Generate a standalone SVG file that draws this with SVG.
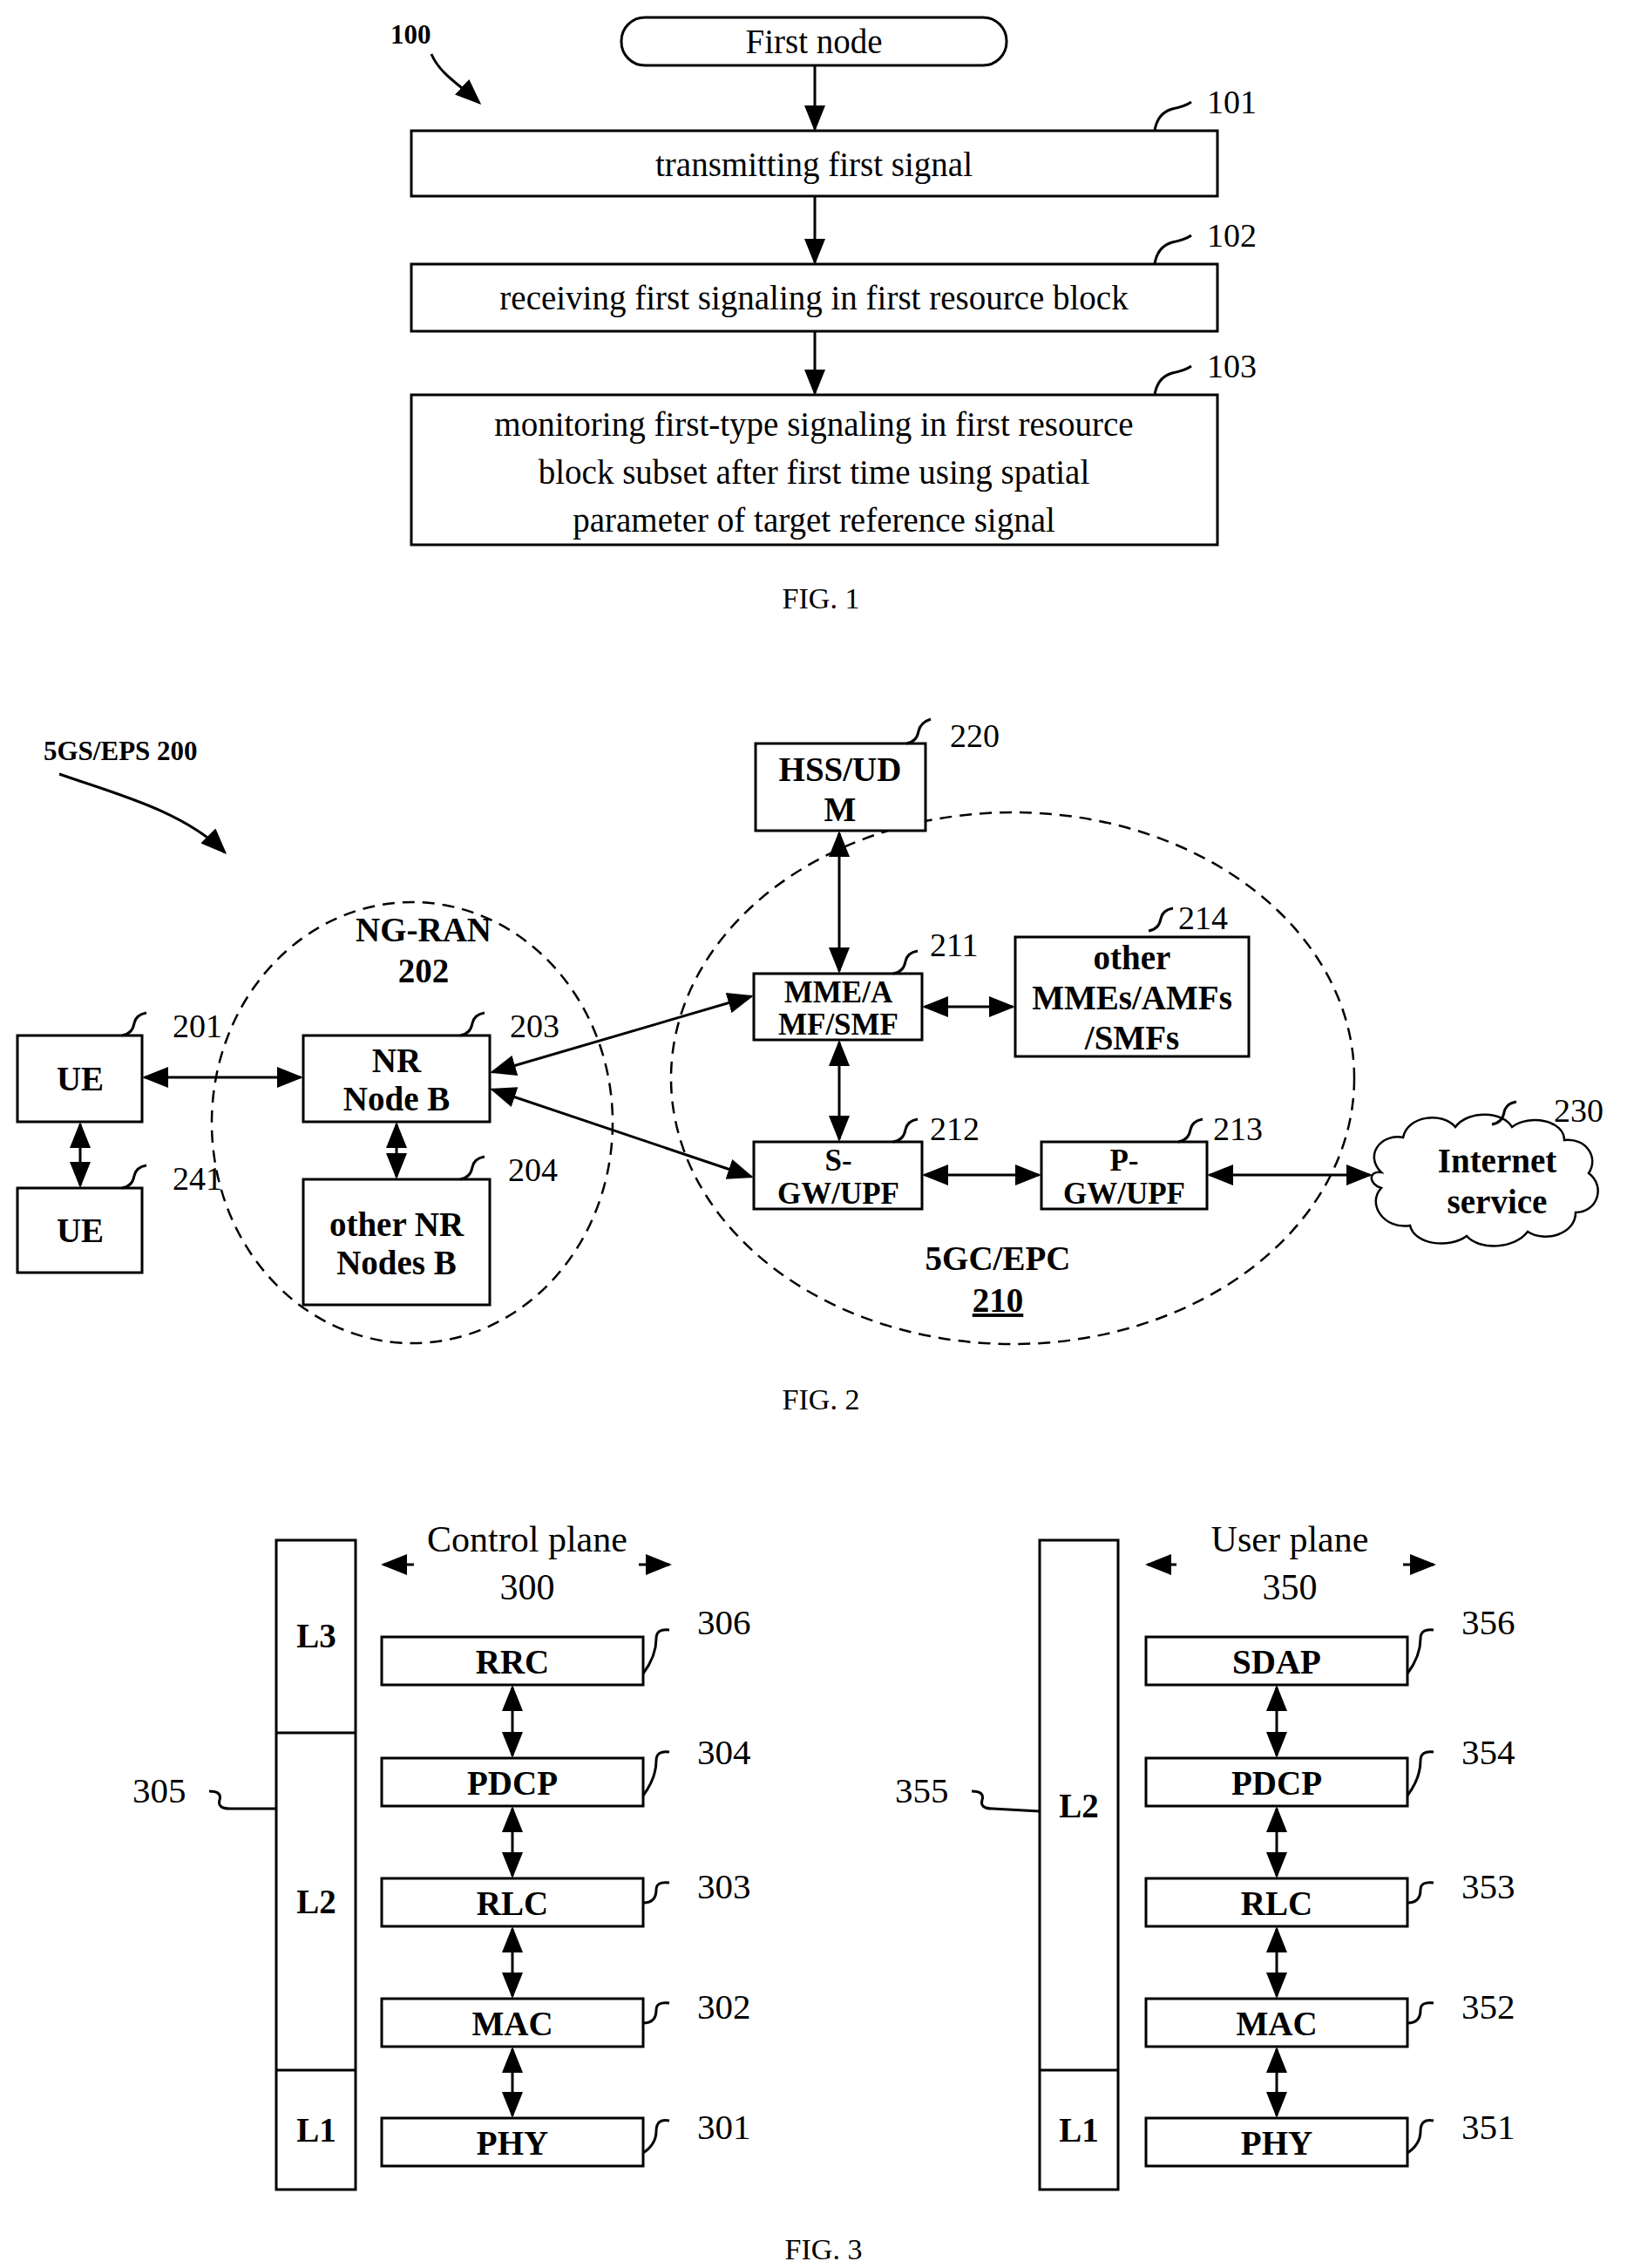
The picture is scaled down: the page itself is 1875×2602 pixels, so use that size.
<svg xmlns="http://www.w3.org/2000/svg" width="1875" height="2602" viewBox="0 0 1875 2602">
<style>
text{font-family:"Liberation Serif",serif;fill:#000}
.t{font-size:39px;text-anchor:middle}
.b{font-size:39px;font-weight:bold;text-anchor:middle}
.b2{font-size:35px;font-weight:bold;text-anchor:middle}
.n{font-size:38px}
.n3{font-size:41px}
.nb{font-size:31px;font-weight:bold}
.box{fill:#fff;stroke:#000;stroke-width:3}
.ln{fill:none;stroke:#000;stroke-width:3}
.ld{fill:none;stroke:#000;stroke-width:3}
.ar{fill:none;stroke:#000;stroke-width:3;marker-end:url(#a)}
.ar2{fill:none;stroke:#000;stroke-width:3;marker-end:url(#a);marker-start:url(#a)}
.el{fill:none;stroke:#000;stroke-width:2.5;stroke-dasharray:14 9}
</style>
<defs>
<marker id="a" markerWidth="10" markerHeight="8" refX="9" refY="4" orient="auto-start-reverse" markerUnits="strokeWidth"><path d="M0,0 L10,4 L0,8 Z"/></marker>
</defs>
<rect width="1875" height="2602" fill="#fff"/>

<!-- FIG 1 -->
<g id="fig1-label"><text class="nb" x="448" y="50">100</text><path class="ar" d="M495,62 C505,85 525,95 550,118"/></g>
<g id="first-node"><rect class="box" x="713" y="20" width="442" height="55" rx="27"/><text class="t" x="934" y="61">First node</text></g>
<g id="n101"><rect class="box" x="472" y="150" width="925" height="75"/><text class="t" x="934" y="202">transmitting first signal</text><path class="ld" d="M1325,150 q3,-20 20,-25 q15,-3 22,-8"/><text class="n" x="1385" y="130">101</text></g>
<g id="n102"><rect class="box" x="472" y="303" width="925" height="77"/><text class="t" x="934" y="355">receiving first signaling in first resource block</text><path class="ld" d="M1325,303 q3,-20 20,-25 q15,-3 22,-8"/><text class="n" x="1385" y="283">102</text></g>
<g id="n103"><rect class="box" x="472" y="453" width="925" height="172"/><text class="t" x="934" y="500">monitoring first-type signaling in first resource</text><text class="t" x="934" y="555">block subset after first time using spatial</text><text class="t" x="934" y="610">parameter of target reference signal</text><path class="ld" d="M1325,453 q3,-20 20,-25 q15,-3 22,-8"/><text class="n" x="1385" y="433">103</text></g>
<g id="fig1-conn"><path class="ar" d="M935,75 V148"/><path class="ar" d="M935,225 V301"/><path class="ar" d="M935,380 V451"/></g>
<text class="t" x="942" y="698" style="font-size:34px">FIG. 1</text>

<!-- FIG 2 -->
<g id="fig2-title"><text class="nb" x="50" y="872">5GS/EPS 200</text><path class="ar" d="M68,888 C130,910 210,930 258,978"/></g>
<ellipse class="el" cx="473" cy="1288" rx="230" ry="253"/>
<ellipse class="el" cx="1162" cy="1237" rx="392" ry="305"/>
<text class="b" x="486" y="1080">NG-RAN</text><text class="b" x="486" y="1127">202</text>
<text class="b" x="1145" y="1457">5GC/EPC</text><text class="b" x="1145" y="1505" text-decoration="underline">210</text>
<g id="hss"><rect class="box" x="867" y="853" width="195" height="100"/><text class="b" x="964" y="896">HSS/UD</text><text class="b" x="964" y="942">M</text><path class="ld" d="M1040,853 q12,-2 14,-14 q2,-10 14,-14"/><text class="n" x="1090" y="857">220</text></g>
<g id="ue1"><rect class="box" x="20" y="1188" width="143" height="99"/><text class="b" x="92" y="1251">UE</text><path class="ld" d="M140,1188 q12,-2 14,-14 q2,-10 14,-12"/><text class="n" x="198" y="1190">201</text></g>
<g id="ue2"><rect class="box" x="20" y="1363" width="143" height="97"/><text class="b" x="92" y="1425">UE</text><path class="ld" d="M140,1363 q12,-2 14,-14 q2,-10 14,-12"/><text class="n" x="198" y="1365">241</text></g>
<g id="nrnb"><rect class="box" x="348" y="1188" width="214" height="99"/><text class="b" x="455" y="1230">NR</text><text class="b" x="455" y="1274">Node B</text><path class="ld" d="M528,1188 q12,-2 14,-14 q2,-10 14,-12"/><text class="n" x="585" y="1190">203</text></g>
<g id="othernr"><rect class="box" x="348" y="1353" width="214" height="144"/><text class="b" x="455" y="1418">other NR</text><text class="b" x="455" y="1462">Nodes B</text><path class="ld" d="M528,1353 q12,-2 14,-14 q2,-10 14,-12"/><text class="n" x="583" y="1355">204</text></g>
<g id="mme"><rect class="box" x="865" y="1117" width="193" height="76"/><text class="b2" x="962" y="1150">MME/A</text><text class="b2" x="962" y="1187">MF/SMF</text><path class="ld" d="M1025,1117 q12,-2 14,-14 q2,-10 14,-12"/><text class="n" x="1067" y="1097">211</text></g>
<g id="othermme"><rect class="box" x="1165" y="1075" width="268" height="137"/><text class="b" x="1299" y="1112">other</text><text class="b" x="1299" y="1158">MMEs/AMFs</text><text class="b" x="1299" y="1204">/SMFs</text><path class="ld" d="M1318,1068 q12,-2 14,-14 q2,-10 14,-12"/><text class="n" x="1352" y="1066">214</text></g>
<g id="sgw"><rect class="box" x="865" y="1310" width="193" height="77"/><text class="b2" x="962" y="1343">S-</text><text class="b2" x="962" y="1381">GW/UPF</text><path class="ld" d="M1025,1310 q12,-2 14,-14 q2,-10 14,-12"/><text class="n" x="1067" y="1308">212</text></g>
<g id="pgw"><rect class="box" x="1195" y="1310" width="190" height="77"/><text class="b2" x="1290" y="1343">P-</text><text class="b2" x="1290" y="1381">GW/UPF</text><path class="ld" d="M1352,1310 q12,-2 14,-14 q2,-10 14,-12"/><text class="n" x="1392" y="1308">213</text></g>
<g id="internet"><path fill="#fff" stroke="#000" stroke-width="2.5" d="M1585,1345 c-20,-20 0,-45 25,-40 c5,-25 45,-30 60,-12 c15,-20 55,-18 65,0 c20,-15 60,-8 60,15 c25,-3 40,20 28,38 c20,15 10,45 -15,45 c0,25 -35,35 -55,22 c-15,20 -55,22 -70,5 c-20,15 -60,10 -65,-12 c-30,5 -50,-25 -33,-43 c-15,-5 -15,-20 0,-18 z"/><text class="b" x="1718" y="1345">Internet</text><text class="b" x="1718" y="1392">service</text><path class="ld" d="M1712,1290 q12,-2 14,-14 q2,-10 14,-12"/><text class="n" x="1783" y="1287">230</text></g>
<g id="fig2-conn">
<path class="ar2" d="M166,1236 H345"/>
<path class="ar2" d="M92,1290 V1360"/>
<path class="ar2" d="M455,1290 V1350"/>
<path class="ar2" d="M565,1230 L862,1143"/>
<path class="ar2" d="M565,1250 L862,1350"/>
<path class="ar2" d="M963,956 V1114"/>
<path class="ar2" d="M963,1196 V1307"/>
<path class="ar2" d="M1061,1155 H1162"/>
<path class="ar2" d="M1061,1348 H1192"/>
<path class="ar2" d="M1388,1348 H1572"/>
</g>
<text class="t" x="942" y="1617" style="font-size:34px">FIG. 2</text>

<!-- FIG 3 -->
<g id="cp-stack"><rect class="box" x="317" y="1767" width="91" height="745"/><path class="ln" d="M317,1988 H408 M317,2375 H408"/><text class="b" x="363" y="1890">L3</text><text class="b" x="363" y="2195">L2</text><text class="b" x="363" y="2457">L1</text></g>
<g id="cp-title"><text class="t" x="605" y="1780" style="font-size:42px">Control  plane</text><text class="t" x="605" y="1835" style="font-size:42px">300</text><path class="ar" d="M475,1795 H440"/><path class="ar" d="M733,1795 H768"/></g>
<g id="n305"><text class="n3" x="152" y="2068">305</text><path class="ld" d="M240,2055 q15,0 12,10 q-3,10 12,10 L317,2075"/></g>
<g id="rrc"><rect class="box" x="438" y="1878" width="300" height="55"/><text class="b" x="588" y="1920">RRC</text><path class="ld" d="M738,1920 q15,-20 15,-40 q0,-12 15,-10"/><text class="n3" x="800" y="1875">306</text></g>
<g id="pdcp1"><rect class="box" x="438" y="2017" width="300" height="55"/><text class="b" x="588" y="2059">PDCP</text><path class="ld" d="M738,2060 q15,-20 15,-40 q0,-12 15,-10"/><text class="n3" x="800" y="2024">304</text></g>
<g id="rlc1"><rect class="box" x="438" y="2155" width="300" height="55"/><text class="b" x="588" y="2197">RLC</text><path class="ld" d="M738,2183 q15,0 15,-15 q0,-10 15,-8"/><text class="n3" x="800" y="2178">303</text></g>
<g id="mac1"><rect class="box" x="438" y="2293" width="300" height="55"/><text class="b" x="588" y="2335">MAC</text><path class="ld" d="M738,2321 q15,0 15,-15 q0,-10 15,-8"/><text class="n3" x="800" y="2316">302</text></g>
<g id="phy1"><rect class="box" x="438" y="2430" width="300" height="55"/><text class="b" x="588" y="2472">PHY</text><path class="ld" d="M738,2470 q15,-10 15,-25 q0,-15 15,-12"/><text class="n3" x="800" y="2454">301</text></g>

<g id="up-stack"><rect class="box" x="1193" y="1767" width="90" height="745"/><path class="ln" d="M1193,2375 H1283"/><text class="b" x="1238" y="2085">L2</text><text class="b" x="1238" y="2457">L1</text></g>
<g id="up-title"><text class="t" x="1480" y="1780" style="font-size:42px">User plane</text><text class="t" x="1480" y="1835" style="font-size:42px">350</text><path class="ar" d="M1350,1795 H1317"/><path class="ar" d="M1610,1795 H1645"/></g>
<g id="n355"><text class="n3" x="1027" y="2068">355</text><path class="ld" d="M1115,2055 q15,0 12,10 q-3,10 12,10 L1193,2078"/></g>
<g id="sdap"><rect class="box" x="1315" y="1878" width="300" height="55"/><text class="b" x="1465" y="1920">SDAP</text><path class="ld" d="M1615,1920 q15,-20 15,-40 q0,-12 15,-10"/><text class="n3" x="1677" y="1875">356</text></g>
<g id="pdcp2"><rect class="box" x="1315" y="2017" width="300" height="55"/><text class="b" x="1465" y="2059">PDCP</text><path class="ld" d="M1615,2060 q15,-20 15,-40 q0,-12 15,-10"/><text class="n3" x="1677" y="2024">354</text></g>
<g id="rlc2"><rect class="box" x="1315" y="2155" width="300" height="55"/><text class="b" x="1465" y="2197">RLC</text><path class="ld" d="M1615,2183 q15,0 15,-15 q0,-10 15,-8"/><text class="n3" x="1677" y="2178">353</text></g>
<g id="mac2"><rect class="box" x="1315" y="2293" width="300" height="55"/><text class="b" x="1465" y="2335">MAC</text><path class="ld" d="M1615,2321 q15,0 15,-15 q0,-10 15,-8"/><text class="n3" x="1677" y="2316">352</text></g>
<g id="phy2"><rect class="box" x="1315" y="2430" width="300" height="55"/><text class="b" x="1465" y="2472">PHY</text><path class="ld" d="M1615,2470 q15,-10 15,-25 q0,-15 15,-12"/><text class="n3" x="1677" y="2454">351</text></g>

<g id="fig3-conn">
<path class="ar2" d="M588,1936 V2014"/><path class="ar2" d="M588,2075 V2152"/><path class="ar2" d="M588,2213 V2290"/><path class="ar2" d="M588,2351 V2427"/>
<path class="ar2" d="M1465,1936 V2014"/><path class="ar2" d="M1465,2075 V2152"/><path class="ar2" d="M1465,2213 V2290"/><path class="ar2" d="M1465,2351 V2427"/>
</g>
<text class="t" x="945" y="2592" style="font-size:34px">FIG. 3</text>
</svg>
